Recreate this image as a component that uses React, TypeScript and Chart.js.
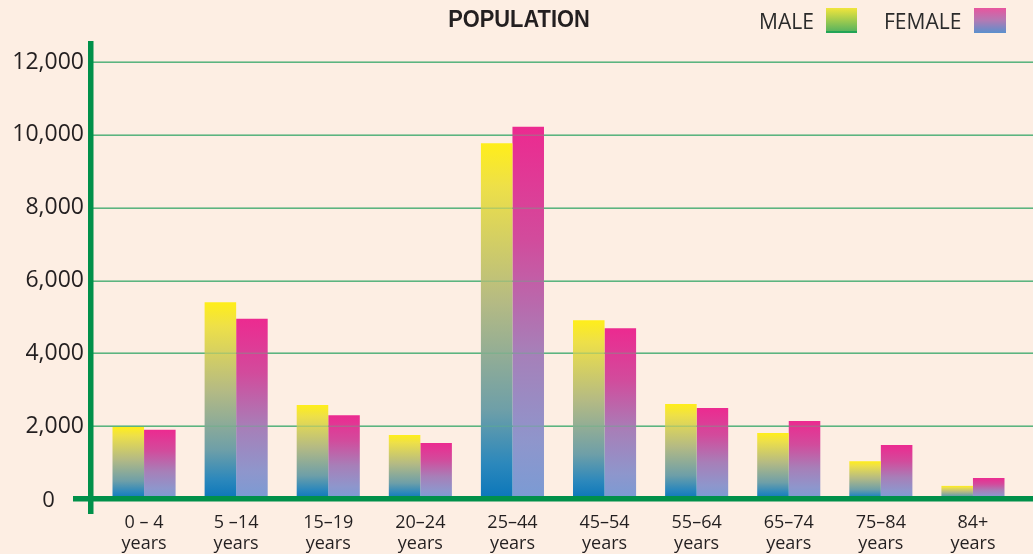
import React, { useEffect, useRef } from "react";
import { Chart, registerables } from "chart.js";

Chart.register(...registerables);

const categories: string[][] = [
  ["0 – 4", "years"],
  ["5 –14", "years"],
  ["15–19", "years"],
  ["20–24", "years"],
  ["25–44", "years"],
  ["45–54", "years"],
  ["55–64", "years"],
  ["65–74", "years"],
  ["75–84", "years"],
  ["84+", "years"],
];
const maleValues = [1980, 5400, 2580, 1760, 9770, 4910, 2610, 1810, 1040, 360];
const femaleValues = [1900, 4950, 2300, 1540, 10220, 4690, 2500, 2140, 1480, 580];
const yTicks = [0, 2000, 4000, 6000, 8000, 10000, 12000];
const titleText = "POPULATION";
const seriesNames = ["MALE", "FEMALE"];

const BG = "#FDEEE3";
const AXIS = "#00904A";
const GRID = "#5DB480";
const TEXT = "#231F20";

function barGradient(stops: [number, string][]) {
  return (ctx: any) => {
    const chart = ctx.chart;
    if (!chart.chartArea || ctx.type !== "data") return stops[0][1];
    const y = chart.scales.y;
    const top = y.getPixelForValue(ctx.raw);
    const bot = y.getPixelForValue(0);
    const g = chart.ctx.createLinearGradient(0, top, 0, bot);
    stops.forEach(([o, c]) => g.addColorStop(o, c));
    return g;
  };
}

const maleStops: [number, string][] = [
  [0, "#FFEE1A"],
  [0.12, "#EEE048"],
  [0.45, "#B4BA84"],
  [0.75, "#6E9FA8"],
  [0.9, "#2C88BC"],
  [1, "#0A76BA"],
];
const femaleStops: [number, string][] = [
  [0, "#EC2A90"],
  [0.3, "#D24B9C"],
  [0.6, "#A77FB8"],
  [0.85, "#8E96CC"],
  [1, "#7A9BD4"],
];

function drawGrid(chart: any, alpha: number) {
  const c = chart.ctx;
  const y = chart.scales.y;
  c.save();
  c.globalAlpha = alpha;
  c.strokeStyle = GRID;
  c.lineWidth = 1.5;
  yTicks.forEach((v) => {
    if (v === 0) return;
    const py = Math.round(y.getPixelForValue(v)) + 0.25;
    c.beginPath();
    c.moveTo(92, py);
    c.lineTo(chart.width, py);
    c.stroke();
  });
  c.restore();
}

const decorPlugin = {
  id: "decor",
  beforeDraw(chart: any) {
    const c = chart.ctx;
    c.save();
    c.fillStyle = BG;
    c.fillRect(0, 0, chart.width, chart.height);
    c.restore();
  },
  beforeDatasetsDraw(chart: any) {
    drawGrid(chart, 1);
  },
  afterDatasetsDraw(chart: any) {
    drawGrid(chart, 0.35);
    const c = chart.ctx;
    const y = chart.scales.y;
    const zero = y.getPixelForValue(0);
    c.save();
    c.fillStyle = AXIS;
    c.fillRect(88, 41, 5.5, 473);
    c.fillRect(73, zero - 3, chart.width - 73, 5.5);
    c.restore();
  },
  afterDraw(chart: any) {
    const c = chart.ctx;
    c.save();
    c.fillStyle = TEXT;
    c.textBaseline = "middle";
    c.textAlign = "center";
    c.font = "22px 'Open Sans', sans-serif";
    c.fillText(String(yTicks[0]), 48.5, 501);
    c.save();
    c.translate(519, 21);
    c.scale(0.95, 1);
    c.font = "bold 23px 'Liberation Sans', Arial, sans-serif";
    c.fillText(titleText, 0, 0);
    c.restore();
    c.textAlign = "left";
    c.font = "21px 'Open Sans', sans-serif";
    c.fillStyle = "#2B2B2B";
    c.fillText(seriesNames[0], 759, 23);
    c.fillText(seriesNames[1], 884, 23);
    // male swatch
    let g = c.createLinearGradient(0, 8, 0, 33);
    g.addColorStop(0, "#F1E53C");
    g.addColorStop(1, "#4DB061");
    c.fillStyle = g;
    c.fillRect(826, 8, 31, 25);
    c.fillStyle = "#22A456";
    c.fillRect(826, 31, 31, 2);
    g = c.createLinearGradient(0, 8, 0, 33);
    g.addColorStop(0, "#E8559E");
    g.addColorStop(0.5, "#B27AB4");
    g.addColorStop(1, "#5A90CD");
    c.fillStyle = g;
    c.fillRect(974, 8, 32, 25);
    c.restore();
  },
};

export default function App() {
  const ref = useRef<HTMLCanvasElement | null>(null);
  useEffect(() => {
    document.body.style.margin = "0";
    document.body.style.background = BG;
    const canvas = ref.current!;
    const chart = new Chart(canvas, {
      type: "bar",
      data: {
        labels: categories,
        datasets: [
          {
            label: seriesNames[0],
            data: maleValues,
            backgroundColor: barGradient(maleStops),
            borderWidth: 0,
            barPercentage: 1,
            categoryPercentage: 0.685,
          },
          {
            label: seriesNames[1],
            data: femaleValues,
            backgroundColor: barGradient(femaleStops),
            borderWidth: 0,
            barPercentage: 1,
            categoryPercentage: 0.685,
          },
        ],
      },
      options: {
        responsive: false,
        animation: false,
        devicePixelRatio: 1,
        layout: { padding: { top: 62, right: 14, left: 0, bottom: 0 } },
        plugins: {
          legend: { display: false },
          title: { display: false },
          tooltip: { enabled: false },
        },
        scales: {
          x: {
            grid: { display: false, drawTicks: false },
            border: { display: false },
            ticks: {
              color: TEXT,
              font: { family: "'Open Sans', sans-serif", size: 18, lineHeight: 1.17 },
              padding: 13,
              maxRotation: 0,
              autoSkip: false,
            },
            afterFit: (s: any) => {
              s.height = 55;
            },
          },
          y: {
            min: 0,
            max: 12000,
            grid: { display: false, drawTicks: false },
            border: { display: false },
            ticks: {
              stepSize: 2000,
              color: TEXT,
              font: { family: "'Open Sans', sans-serif", size: 23 },
              padding: 14,
              callback: (v: any) => (Number(v) === 0 ? "" : Number(v).toLocaleString("en-US")),
            },
            afterFit: (s: any) => {
              s.width = 98;
            },
          },
        },
      },
      plugins: [decorPlugin],
    });
    return () => chart.destroy();
  }, []);
  return (
    <canvas
      ref={ref}
      width={1033}
      height={554}
      style={{ display: "block", width: 1033, height: 554 }}
    />
  );
}
